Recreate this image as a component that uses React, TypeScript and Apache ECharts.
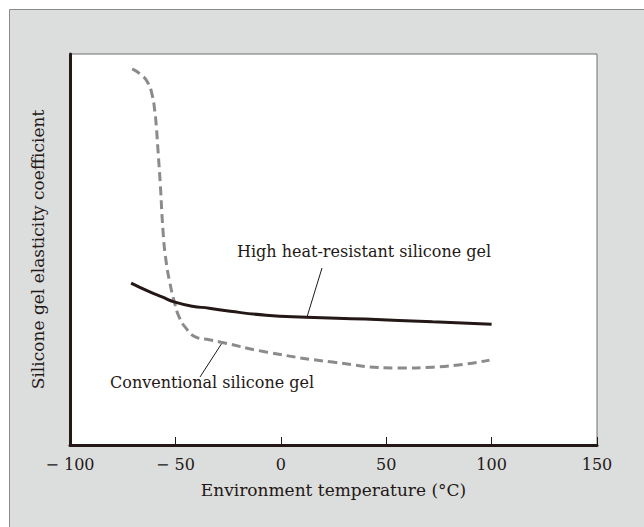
import React, { useEffect, useRef } from "react";
import * as echarts from "echarts";

// Temperature (°C) and relative elasticity coefficient, high heat-resistant gel
const heatResistantTemp = [-71, -62.4, -56, -50.6, -42, -34, -24, -7, 12, 40, 72, 100];
const heatResistantValue = [41.4, 39.2, 37.8, 36.6, 35.5, 35.0, 34.2, 33.2, 32.7, 32.2, 31.5, 30.9];

// Conventional gel
const conventionalTemp = [
  -70.5, -66.5, -63.2, -61.0, -59.8, -59.1, -58.2, -57.2, -55.8, -54.5, -52.6, -50.5,
  -48.2, -45, -40.3, -33.9, -28.4, -7, 24.5, 56, 72, 99,
];
const conventionalValue = [
  96.2, 94.8, 92.8, 89.5, 85.5, 81.8, 74.9, 67.0, 54.2, 47.3, 41.4, 36.6,
  32.7, 29.9, 27.6, 26.9, 26.3, 23.8, 21.2, 19.7, 19.9, 21.7,
];

const xTicks = [-100, -50, 0, 50, 100, 150];

const INK = "#231815";
const FONT = "DejaVu Serif";

export default function App() {
  const ref = useRef<HTMLDivElement>(null);

  useEffect(() => {
    if (!ref.current) return;
    const chart = echarts.init(ref.current, null, { renderer: "svg" });
    const pair = (xs: number[], ys: number[]) => xs.map((x, i) => [x, ys[i]]);

    chart.setOption({
      animation: false,
      backgroundColor: "#ffffff",
      textStyle: { fontFamily: FONT, color: INK },
      graphic: [
        {
          type: "rect",
          z: -100,
          shape: { x: 9.5, y: 9.5, width: 640, height: 530 },
          style: { fill: "#dcdddd", stroke: "#8a8a8a", lineWidth: 1 },
        },
        {
          type: "text",
          x: 237,
          y: 251,
          style: {
            text: "High heat-resistant silicone gel",
            font: `16px '${FONT}'`,
            fill: INK,
            verticalAlign: "middle",
          },
        },
        {
          type: "line",
          shape: { x1: 322, y1: 268, x2: 307, y2: 317 },
          style: { stroke: INK, lineWidth: 1 },
        },
        {
          type: "text",
          x: 110,
          y: 382,
          style: {
            text: "Conventional silicone gel",
            font: `16px '${FONT}'`,
            fill: INK,
            verticalAlign: "middle",
          },
        },
        {
          type: "line",
          shape: { x1: 200, y1: 377, x2: 222, y2: 343 },
          style: { stroke: INK, lineWidth: 1 },
        },
      ],
      grid: {
        left: 70,
        right: 47,
        top: 54,
        bottom: 82,
        show: true,
        backgroundColor: "#ffffff",
        borderColor: "#6f6f6f",
        borderWidth: 1,
      },
      xAxis: {
        type: "value",
        min: -100,
        max: 150,
        interval: 50,
        name: "Environment temperature (°C)",
        nameLocation: "middle",
        nameGap: 36,
        nameTextStyle: { fontFamily: FONT, fontSize: 17, color: INK },
        axisLine: { show: true, onZero: false, lineStyle: { color: INK, width: 3 } },
        axisTick: { show: true, inside: true, length: 8, lineStyle: { color: INK, width: 1 } },
        axisLabel: {
          fontFamily: FONT,
          fontSize: 16,
          color: INK,
          margin: 11,
          formatter: (v: number) => (xTicks.includes(v) ? (v < 0 ? "\u2212 " + Math.abs(v) : String(v)) : ""),
        },
        splitLine: { show: false },
      },
      yAxis: {
        type: "value",
        min: 0,
        max: 100,
        name: "Silicone gel elasticity coefficient",
        nameLocation: "middle",
        nameGap: 24,
        nameRotate: 90,
        nameTextStyle: { fontFamily: FONT, fontSize: 17, color: INK },
        axisLine: { show: true, onZero: false, lineStyle: { color: INK, width: 3 } },
        axisTick: { show: false },
        axisLabel: { show: false },
        splitLine: { show: false },
      },
      series: [
        {
          name: "Conventional silicone gel",
          type: "line",
          data: pair(conventionalTemp, conventionalValue),
          smooth: 0.5,
          showSymbol: false,
          lineStyle: { color: "#8b8b8b", width: 3, type: [9, 5] },
        },
        {
          name: "High heat-resistant silicone gel",
          type: "line",
          data: pair(heatResistantTemp, heatResistantValue),
          smooth: 0.5,
          showSymbol: false,
          lineStyle: { color: INK, width: 3 },
        },
      ],
    });
    return () => chart.dispose();
  }, []);

  return (
    <div
      ref={ref}
      style={{ position: "absolute", left: 0, top: 0, width: 644, height: 527 }}
    />
  );
}
